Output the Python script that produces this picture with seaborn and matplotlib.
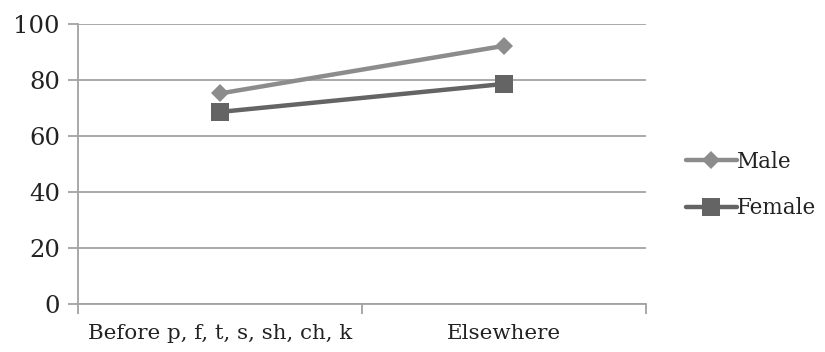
import matplotlib
matplotlib.use("Agg")
import matplotlib.pyplot as plt
from matplotlib.lines import Line2D
import seaborn as sns
import pandas as pd

# Values per environment, by speaker sex
categories = ["Before p, f, t, s, sh, ch, k", "Elsewhere"]
male = [75.2, 92.2]
female = [68.6, 78.6]
series = ["Male", "Female"]
y_ticks = [0, 20, 40, 60, 80, 100]

df = pd.DataFrame({
    "env": categories * 2,
    "value": male + female,
    "sex": [series[0]] * 2 + [series[1]] * 2,
})

sns.set_theme(style="white")
plt.rcParams["font.family"] = ["DejaVu Serif"]

fig = plt.figure(figsize=(8.25, 3.52), dpi=100)
ax = fig.add_axes([0.0945, 0.136, 0.689, 0.796])

grid_c = "#a3a3a3"
text_c = "#222222"
styles = {
    "Male": dict(color="#8c8c8c", marker="D", markersize=9.5),
    "Female": dict(color="#646464", marker="s", markersize=13),
}
for name in series:
    st = styles[name]
    sns.lineplot(data=df[df["sex"] == name], x="env", y="value",
                 color=st["color"], marker=st["marker"], markersize=st["markersize"],
                 markeredgewidth=0, linewidth=3.2, sort=False, ax=ax, legend=False)

ax.set_xlim(-0.5, 1.5)
ax.set_ylim(0, 100)
ax.set_yticks(y_ticks)
ax.yaxis.grid(True, color=grid_c, linewidth=1.3)
ax.set_axisbelow(True)

for s in ["top", "right"]:
    ax.spines[s].set_visible(False)
for s in ["left", "bottom"]:
    ax.spines[s].set_color(grid_c)
    ax.spines[s].set_linewidth(1.3)

ax.set_xticks([0, 1])
ax.set_xticklabels(categories)
ax.set_xticks([-0.5, 0.5, 1.5], minor=True)
ax.tick_params(axis="x", which="major", bottom=False, length=0, pad=14,
               labelsize=15.4, labelcolor=text_c)
ax.tick_params(axis="x", which="minor", bottom=True, length=7, width=1.3,
               color=grid_c, direction="out")
ax.tick_params(axis="y", which="major", left=True, length=7, width=1.3, color=grid_c,
               direction="out", pad=6, labelsize=17.5, labelcolor=text_c)
ax.set_xlabel("")
ax.set_ylabel("")

handles = [Line2D([], [], color=styles[n]["color"], marker=styles[n]["marker"],
                  markersize=styles[n]["markersize"], markeredgewidth=0, linewidth=3.2)
           for n in series]
ax.legend(handles, series, loc="center left", bbox_to_anchor=(1.035, 0.425),
          frameon=False, fontsize=15.5, handlelength=2.4, handletextpad=0.0,
          labelspacing=1.15, labelcolor=text_c)

fig.savefig("out.png", dpi=100, facecolor="white")
